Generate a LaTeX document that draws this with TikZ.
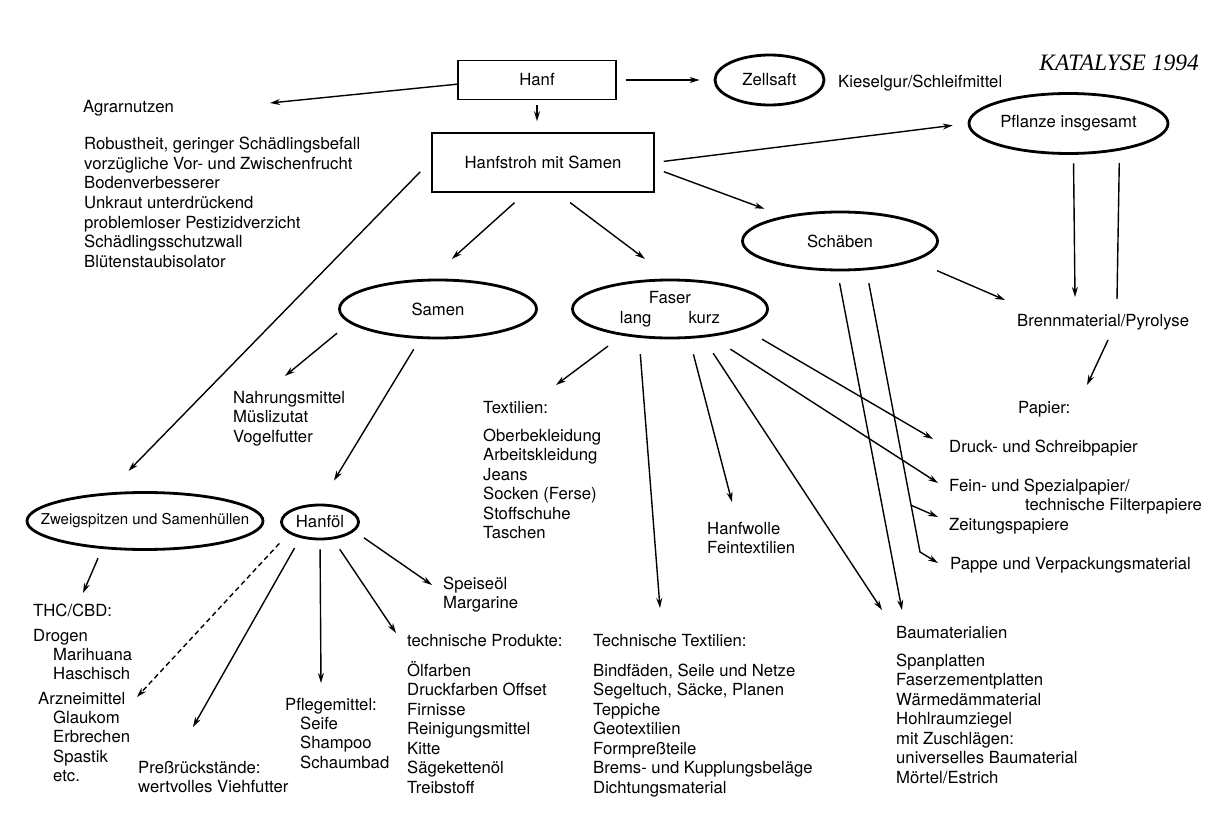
\documentclass[tikz,border=0pt]{standalone}
\usepackage{fontspec}
\setmainfont{TeX Gyre Heros}
\newfontfamily\katalysefont{Liberation Serif}
\usepackage{tikz}
\usetikzlibrary{shapes.geometric}
\usetikzlibrary{calc}
\usetikzlibrary{arrows.meta}

\begin{document}
\begin{tikzpicture}[x=1pt, y=-1pt,
		txt/.style={anchor=base west, inner sep=0pt, align=left, font=\fontsize{16.7}{19.5}\selectfont},
		kasten/.style={draw, line width=1.6pt, inner sep=0pt, font=\fontsize{16.7}{19.5}\selectfont},
		oval/.style={ellipse, draw, line width=2.8pt, inner sep=0pt, align=center, font=\fontsize{16.7}{19.5}\selectfont},
		pfeil/.style={line width=1.4pt, -{Stealth[length=10pt, width=6pt]}}]
		\useasboundingbox (0,0) rectangle (1217,826);
		\node at (537,80) [kasten, minimum width=158pt, minimum height=39pt] (hanf) {Hanf};
		\node at (543,162.5) [kasten, minimum width=222pt, minimum height=59pt] (stroh) {Hanfstroh mit Samen};
		\node at (769.5,80) [oval, minimum width=109pt, minimum height=50pt] (zellsaft) {Zellsaft};
		\node at (1068.5,123.5) [oval, minimum width=199pt, minimum height=60pt] (pflanze) {Pflanze insgesamt};
		\node at (840,241) [oval, minimum width=195pt, minimum height=58pt] (schaeben) {Schäben};
		\node at (438,309) [oval, minimum width=197pt, minimum height=58pt] (samen) {Samen};
		\node at (670,309) [oval, minimum width=195pt, minimum height=58pt] (faser) {Faser\\lang\hspace*{37pt}kurz};
		\node at (145,521) [oval, minimum width=236pt, minimum height=57pt, inner xsep=-40pt, font=\fontsize{15}{18}\selectfont] (zweig) {Zweigspitzen und Samenhüllen};
		\node at (320,522) [oval, minimum width=77pt, minimum height=34pt] (hanfoel) {Hanföl};
		\node at (1199,71) [anchor=base east, inner sep=0pt, font=\katalysefont\itshape\fontsize{23.5}{28}\selectfont] (quelle) {KATALYSE 1994};

		% mehrzeilige Texte: Lage = Grundlinie der letzten Zeile
		\node at (83,113) [txt] (agrar) {Agrarnutzen};
		\node at (84,267) [txt] (agrarliste) {Robustheit, geringer Schädlingsbefall\\vorzügliche Vor- und Zwischenfrucht\\Bodenverbesserer\\Unkraut unterdrückend\\problemloser Pestizidverzicht\\Schädlingsschutzwall\\Blütenstaubisolator};
		\node at (838,88) [txt] (kiesel) {Kieselgur/Schleifmittel};
		\node at (1017,326) [txt] (brenn) {Brennmaterial/Pyrolyse};
		\node at (1018,413) [txt] (papier) {Papier:};
		\node at (949,452) [txt] (druck) {Druck- und Schreibpapier};
		\node at (949,510.5) [txt] (fein) {Fein- und Spezialpapier/\\\hspace*{76pt}technische Filterpapiere};
		\node at (949,530) [txt] (zeitung) {Zeitungspapiere};
		\node at (950,569) [txt] (pappe) {Pappe und Verpackungsmaterial};
		\node at (233,442) [txt] (nahr) {Nahrungsmittel\\Müslizutat\\Vogelfutter};
		\node at (483,413) [txt] (textilkopf) {Textilien:};
		\node at (483,538.5) [txt] (textilliste) {Oberbekleidung\\Arbeitskleidung\\Jeans\\Socken (Ferse)\\Stoffschuhe\\Taschen};
		\node at (707,553.5) [txt] (wolle) {Hanfwolle\\Feintextilien};
		\node at (33,616) [txt] (thc) {THC/CBD:};
		\node at (33,641) [txt] (drogen) {Drogen};
		\node at (53,679.5) [txt] (drogenliste) {Marihuana\\Haschisch};
		\node at (38,704) [txt] (arznei) {Arzneimittel};
		\node at (53,781.5) [txt] (arzneiliste) {Glaukom\\Erbrechen\\Spastik\\etc.};
		\node at (138,792.5) [txt] (press) {Preßrückstände:\\wertvolles Viehfutter};
		\node at (285,710) [txt] (pflege) {Pflegemittel:};
		\node at (300,768) [txt] (pflegeliste) {Seife\\Shampoo\\Schaumbad};
		\node at (443,608.5) [txt] (speise) {Speiseöl\\Margarine};
		\node at (407,646) [txt] (techprodkopf) {technische Produkte:};
		\node at (407,793) [txt] (techprodliste) {Ölfarben\\Druckfarben Offset\\Firnisse\\Reinigungsmittel\\Kitte\\Sägekettenöl\\Treibstoff};
		\node at (593,646) [txt] (techtexkopf) {Technische Textilien:};
		\node at (593,793) [txt] (techtexliste) {Bindfäden, Seile und Netze\\Segeltuch, Säcke, Planen\\Teppiche\\Geotextilien\\Formpreßteile\\Brems- und Kupplungsbeläge\\Dichtungsmaterial};
		\node at (896,638) [txt] (baukopf) {Baumaterialien};
		\node at (896,783) [txt] (bauliste) {Spanplatten\\Faserzementplatten\\Wärmedämmaterial\\Hohlraumziegel\\mit Zuschlägen:\\universelles Baumaterial\\Mörtel/Estrich};

		\draw [pfeil] (hanf.183) -- ($(agrar.base west)+(187,-10)$);
		\draw [pfeil, shorten <=4.5pt, shorten >=11pt] (hanf.south) -- (hanf.south |- stroh.north);
		\draw [pfeil, shorten <=9pt, shorten >=14pt] (hanf.east) -- (zellsaft.west);

		\draw [pfeil, shorten <=9pt, shorten >=15pt] (stroh.east) -- (pflanze.west);
		\draw [pfeil, shorten <=9.6pt, shorten >=20.7pt] (stroh.357) -- (schaeben.156.8);
		\draw [pfeil, shorten <=14.8pt, shorten >=29.6pt] (stroh.240) -- (samen.105);
		\draw [pfeil, shorten <=16.3pt, shorten >=32.7pt] (stroh.295.5) -- (faser.88);
		\draw [pfeil, shorten <=15.8pt, shorten >=30.4pt] (stroh.179) -- (zweig.143);

		\draw [pfeil, shorten <=16pt] (samen.189.5) -- ($(nahr.base west)+(52,-66)$);
		\draw [pfeil, shorten <=12.2pt, shorten >=26.9pt] (samen.239.7) -- (hanfoel.north);

		\draw [pfeil, shorten <=17.5pt] (faser.209.2) -- ($(textilkopf.base west)+(73,-28)$);
		\draw [pfeil, shorten <=16.3pt] (faser.223.6) -- ($(techtexkopf.base west)+(67,-38)$);
		\draw [pfeil, shorten <=16pt] (faser.303.6) -- ($(wolle.base west)+(25,-51.5)$);
		\draw [pfeil, shorten <=18.6pt] (faser.319) -- ($(baukopf.base west)+(-14,-28)$);
		\draw [pfeil, shorten <=23pt] (faser.326.9) -- ($(fein.base west)+(-11,-27.5)$);
		\draw [pfeil, shorten <=20.2pt] (faser.345.9) -- ($(druck.base west)+(-16,-13)$);

		\draw [pfeil, shorten <=12pt] (schaeben.265.5) -- ($(baukopf.base west)+(6,-28)$);
		\coordinate (knick) at ($(pappe.base west)+(-30,-17)$);
		\draw [pfeil, shorten <=13.2pt] (schaeben.312.3) -- coordinate[pos=0.834] (abzweig) (knick) -- ($(pappe.base west)+(-12,-6)$);
		\draw [pfeil] (abzweig) -- ($(zeitung.base west)+(-11,-13)$);
		\draw [pfeil, shorten <=24.5pt] (schaeben.345) -- ($(brenn.base west)+(-12,-26)$);

		\draw [pfeil, shorten <=8.5pt] (pflanze.279.8) -- ($(brenn.base west)+(58,-29)$);
		\draw [line width=1.4pt, shorten <=12.4pt] (pflanze.332.1) -- ($(brenn.base west)+(100,-27)$); % ohne Spitze
		\draw [pfeil] ($(brenn.base west)+(91,14)$) -- ($(papier.base west)+(69,-28)$);

		\draw [pfeil, shorten <=10.2pt] (zweig.213.4) -- ($(thc.base west)+(50,-23)$);

		\draw [pfeil, dash pattern=on 5pt off 3.5pt, shorten <=13.8pt] (hanfoel.200.2) -- ($(arznei.base west)+(99,-7)$);
		\draw [pfeil, shorten <=11.5pt] (hanfoel.219.3) -- ($(press.base west)+(55,-65.5)$);
		\draw [pfeil, shorten <=9pt] (hanfoel.south) -- ($(pflege.base west)+(36,-27)$);
		\draw [pfeil, shorten <=11.9pt] (hanfoel.307.6) -- ($(techprodkopf.base west)+(-11,-13)$);
		\draw [pfeil, shorten <=11.5pt] (hanfoel.345.9) -- ($(speise.base west)+(-11,-23.5)$);
\end{tikzpicture}
\end{document}
